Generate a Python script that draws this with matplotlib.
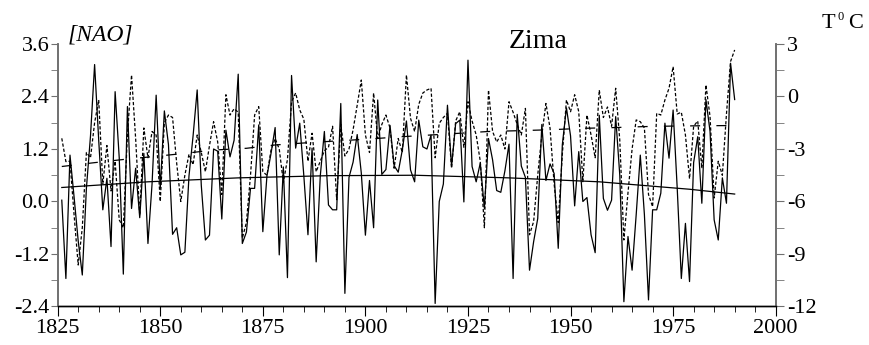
import matplotlib
matplotlib.use("Agg")
import matplotlib.pyplot as plt
from matplotlib.ticker import MultipleLocator, FormatStrFormatter

# winter NAO index and winter temperature, 1826-1990
years = list(range(1826, 1991))

nao = [
    0.03, -1.76, 1.06, 0.1, -0.9, -1.68, 0.3, 1.5, 3.13, 1.4,        # 1826
    -0.19, 0.53, -1.03, 2.51, 1.0, -1.66, 2.17, -0.16, 0.76, -0.37,  # 1836
    1.1, -0.96, 0.4, 2.43, 0.3, 2.07, 1.3, -0.75, -0.6, -1.22,       # 1846
    -1.16, 0.58, 1.5, 2.55, 0.37, -0.88, -0.77, 1.2, 1.15, -0.4,     # 1856
    1.63, 1.02, 1.4, 2.91, -0.96, -0.7, 0.3, 0.3, 1.75, -0.69,       # 1866
    0.58, 1.1, 1.69, -1.22, 0.79, -1.74, 2.88, 1.22, 1.79, 0.58,     # 1876
    -0.76, 1.22, -1.38, 0.58, 1.6, -0.08, -0.19, -0.19, 2.24, -2.1,  # 1886
    0.55, 0.9, 1.53, 0.65, -0.77, 0.48, -0.6, 2.32, 0.62, 0.73,      # 1896
    1.74, 0.82, 0.67, 1.18, 1.84, 0.72, 0.45, 1.86, 1.25, 1.2,       # 1906
    1.52, -2.33, 0.0, 0.4, 2.2, 0.8, 1.78, 1.86, -0.01, 3.23,        # 1916
    0.8, 0.45, 0.88, -0.16, 1.44, 0.95, 0.25, 0.21, 0.7, 1.31,       # 1926
    -1.76, 1.99, 0.81, 0.55, -1.57, -0.92, -0.39, 1.76, 0.48, 0.86,  # 1936
    0.64, -1.07, 1.3, 2.14, 1.5, -0.1, 1.14, 0.0, 0.09, -0.76,       # 1946
    -1.17, 1.97, 0.07, -0.2, 0.03, 1.94, 0.6, -2.29, -0.8, -1.57,    # 1956
    -0.3, 1.06, -0.3, -2.25, -0.19, -0.19, 0.19, 1.79, 0.99, 2.09,   # 1966
    0.3, -1.76, -0.5, -1.83, 0.89, 1.48, -0.04, 2.33, 1.6, -0.42,    # 1976
    -0.88, 0.54, -0.04, 3.16, 2.33,                                  # 1986
]

temp = [
    -2.39, -3.72, -3.7, -6.77, -9.63, -7.5, -3.2, -3.5, -1.5, -0.2,   # 1826
    -5.0, -2.8, -5.4, -3.7, -7.05, -7.5, -2.2, 1.23, -2.4, -6.8,      # 1836
    -1.8, -3.5, -2.0, -2.2, -6.0, -1.5, -1.06, -1.2, -3.8, -6.0,      # 1846
    -4.5, -3.3, -3.9, -2.2, -3.2, -4.3, -2.8, -1.44, -2.6, -5.6,      # 1856
    0.1, -1.06, -0.7, -0.9, -8.1, -7.2, -4.5, -1.06, -0.58, -4.3,     # 1866
    -4.5, -3.06, -2.4, -3.0, -4.9, -3.6, -0.3, 0.2, -0.77, -1.3,      # 1876
    -3.7, -2.1, -4.3, -3.7, -3.1, -2.9, -1.7, -5.9, -1.6, -3.4,       # 1886
    -3.0, -1.9, -0.5, 0.94, -2.2, -3.2, 0.2, -2.4, -1.6, -1.06,       # 1896
    -1.8, -4.1, -2.4, -3.2, 1.23, -1.25, -2.0, -0.45, 0.2, 0.37,      # 1906
    0.47, -3.5, -1.53, -1.2, -0.96, -4.1, -1.4, -0.87, -2.9, -0.3,    # 1916
    -1.4, -2.2, -3.7, -7.5, 0.37, -2.0, -2.6, -2.2, -3.0, -0.3,       # 1926
    -0.9, -1.6, -2.2, -0.68, -7.9, -7.15, -4.5, -2.2, -0.4, -1.8,     # 1936
    -5.0, -7.2, -3.3, -0.2, -0.87, 0.1, -0.87, -4.87, -1.06, -2.2,    # 1946
    -3.5, 0.37, -1.2, -0.6, -1.7, 0.47, -2.5, -8.2, -5.5, -3.0,       # 1956
    -1.34, -1.44, -1.8, -5.6, -6.3, -0.96, -1.06, -0.2, 0.47, 1.7,    # 1966
    -1.0, -0.9, -2.2, -4.7, -1.7, -1.4, -4.1, 0.66, -1.15, -5.8,      # 1976
    -3.7, -4.5, -1.0, 2.0, 2.66,                                      # 1986
]

# trend lines
nao_trend_years = [1826, 1847, 1869, 1891, 1912, 1935, 1957, 1979, 1990]
nao_trend = [0.32, 0.45, 0.54, 0.59, 0.60, 0.54, 0.45, 0.28, 0.17]

temp_trend_years = [1826, 1834, 1841, 1848, 1856, 1863, 1871, 1878, 1886, 1893, 1901,
                    1908, 1916, 1923, 1930, 1938, 1945, 1953, 1960, 1968, 1975, 1983, 1990]
temp_trend = [-4.0, -3.78, -3.6, -3.44, -3.25, -3.06, -2.96, -2.77, -2.64, -2.54, -2.43,
              -2.31, -2.2, -2.1, -2.0, -1.95, -1.9, -1.82, -1.78, -1.72, -1.69, -1.67, -1.66]

plt.rcParams['font.family'] = ['Liberation Serif', 'DejaVu Serif']
plt.rcParams['axes.unicode_minus'] = False

axis_col = '#707070'

fig = plt.figure(figsize=(8.7, 3.45), dpi=100)
ax = fig.add_axes([0.0663, 0.1116, 0.8253, 0.7609])
ax2 = ax.twinx()

ax.plot(years, nao, color='k', lw=0.9)
ax.plot(nao_trend_years, nao_trend, color='k', lw=0.9)
ax2.plot(years, temp, color='k', lw=0.9, dashes=(2.6, 1.6))
ax2.plot(temp_trend_years, temp_trend, color='k', lw=0.9, dashes=(8, 13))

ax.set_xlim(1825, 2000)
ax.set_ylim(-2.4, 3.6)
ax2.set_ylim(-12, 3)

ax.xaxis.set_major_locator(MultipleLocator(25))
ax.xaxis.set_minor_locator(MultipleLocator(5))
ax.yaxis.set_major_locator(MultipleLocator(1.2))
ax.yaxis.set_minor_locator(MultipleLocator(0.6))
ax.yaxis.set_major_formatter(FormatStrFormatter('%.1f'))
ax2.yaxis.set_major_locator(MultipleLocator(3))
ax2.yaxis.set_minor_locator(MultipleLocator(1.5))

for a in (ax, ax2):
    a.spines['top'].set_visible(False)
    for s in a.spines.values():
        s.set_color(axis_col)
        s.set_linewidth(1.2)
    a.spines['bottom'].set_color('k')
    a.spines['bottom'].set_linewidth(1.0)

ax.tick_params(axis='x', which='major', direction='out', length=7, color='k', labelsize=16, pad=2)
ax.tick_params(axis='x', which='minor', direction='out', length=4, color='k')
ax.tick_params(axis='y', which='both', direction='out', length=5, color=axis_col, labelsize=16, pad=1)
ax2.tick_params(axis='y', which='both', direction='out', length=6, color=axis_col, labelsize=16, pad=2)

fig.text(68 / 870, 1 - 35 / 345, '[NAO]', style='italic', fontsize=17, ha='left', va='center')
fig.text(538 / 870, 1 - 42 / 345, 'Zima', fontsize=20, ha='center', va='center')
fig.text(822 / 870, 1 - 24 / 345, 'T', fontsize=16, ha='left', va='center')
fig.text(838 / 870, 1 - 17 / 345, '0', fontsize=9, ha='left', va='center')
fig.text(848 / 870, 1 - 24 / 345, 'C', fontsize=16, ha='left', va='center')

fig.savefig('out.png', dpi=100)
